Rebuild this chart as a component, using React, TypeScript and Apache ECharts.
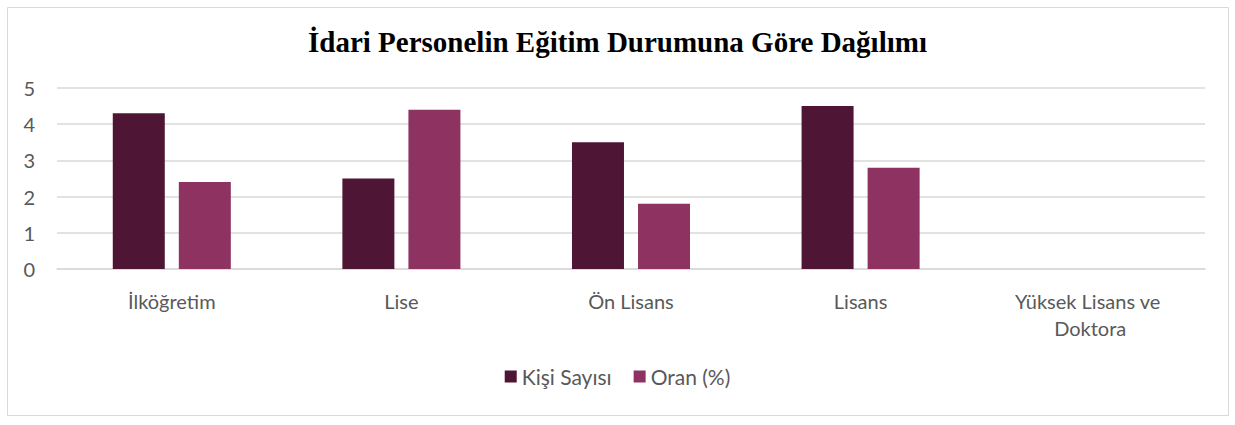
import React, { useEffect, useRef } from "react";
import * as echarts from "echarts";

const categories = ["İlköğretim", "Lise", "Ön Lisans", "Lisans", "Yüksek Lisans ve Doktora"];
const kisiSayisi = [4.3, 2.5, 3.5, 4.5, null];
const oran = [2.4, 4.4, 1.8, 2.8, null];
const seriesNames = ["Kişi Sayısı", "Oran (%)"];
const titleText = "İdari Personelin Eğitim Durumuna Göre Dağılımı";

export default function App() {
  const ref = useRef<HTMLDivElement>(null);
  useEffect(() => {
    if (!ref.current) return;
    const chart = echarts.init(ref.current, null, { renderer: "svg" });
    const font = "Lato, 'Open Sans', sans-serif";
    chart.setOption({
      animation: false,
      backgroundColor: "#fff",
      title: {
        text: titleText,
        left: "center",
        top: 22,
        textStyle: {
          fontFamily: "'Liberation Serif', 'Times New Roman', serif",
          fontWeight: "bold",
          fontSize: 29,
          color: "#000",
        },
      },
      graphic: [
        {
          type: "rect",
          shape: { x: 7.5, y: 7.5, width: 1221, height: 408 },
          style: { fill: "none", stroke: "#d9d9d9", lineWidth: 1 },
          z: -1,
        },
      ],
      legend: {
        bottom: 33,
        left: "center",
        itemWidth: 12,
        itemHeight: 12,
        itemGap: 22,
        icon: "rect",
        textStyle: { fontFamily: font, fontSize: 21, color: "#595959" },
        data: seriesNames,
      },
      grid: { left: 57, right: 30, top: 88, bottom: 156, containLabel: false },
      xAxis: {
        type: "category",
        data: categories,
        axisLine: { lineStyle: { color: "#d9d9d9", width: 1.5 } },
        axisTick: { show: false },
        axisLabel: {
          fontFamily: font,
          fontSize: 20,
          color: "#595959",
          margin: 18,
          lineHeight: 27,
          width: 200,
          overflow: "break",
          interval: 0,
        },
      },
      yAxis: {
        type: "value",
        min: 0,
        max: 5,
        interval: 1,
        axisLine: { show: false },
        axisTick: { show: false },
        splitLine: { lineStyle: { color: "#d9d9d9", width: 1.5 } },
        axisLabel: { fontFamily: font, fontSize: 20, color: "#595959", margin: 22 },
      },
      series: [
        {
          name: seriesNames[0],
          type: "bar",
          data: kisiSayisi,
          barWidth: 52,
          barGap: "27%",
          itemStyle: { color: "#4F1534" },
        },
        {
          name: seriesNames[1],
          type: "bar",
          data: oran,
          barWidth: 52,
          barGap: "27%",
          itemStyle: { color: "#8D3261" },
        },
      ],
    });
    return () => chart.dispose();
  }, []);
  return (
    <div
      ref={ref}
      style={{ position: "fixed", left: 0, top: 0, width: 1235, height: 425 }}
    />
  );
}
